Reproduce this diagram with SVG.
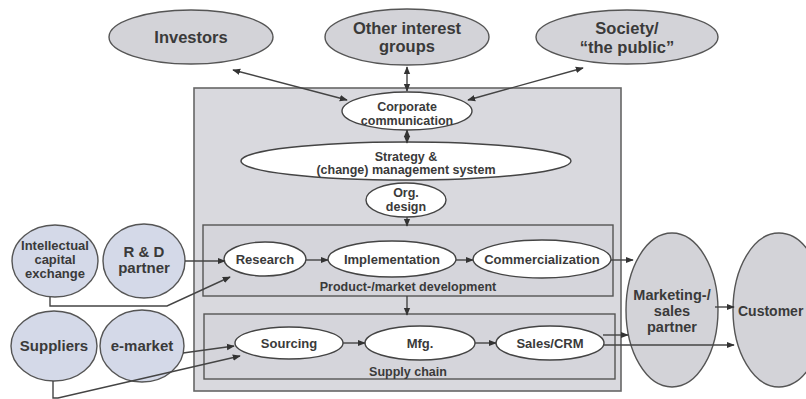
<svg xmlns="http://www.w3.org/2000/svg" width="806" height="399" viewBox="0 0 806 399">
  <style>
    .lbl { font-family: "Liberation Sans", Arial, sans-serif; font-weight: bold; fill: #3a3a3a; text-anchor: middle; }
    .big { font-size: 16.5px; }
    .mid { font-size: 15px; }
    .mk { font-size: 14.5px; }
    .sm { font-size: 13px; }
    .xs { font-size: 12.5px; }
    .outer { fill: #d3d3d8; stroke: #555; stroke-width: 1.4; }
    .partner { fill: #d4d9e8; stroke: #555; stroke-width: 1.4; }
    .inner { fill: #ffffff; stroke: #444; stroke-width: 1.4; }
    .frame { fill: #d9d9de; stroke: #666; stroke-width: 1.6; }
    .sub { fill: #d5d5db; stroke: #555; stroke-width: 1.4; }
    .conn { fill: none; stroke: #444; stroke-width: 1.4; }
  </style>
  <defs>
    <marker id="arr" viewBox="0 0 10 10" refX="9" refY="5" markerWidth="8" markerHeight="8" markerUnits="userSpaceOnUse" orient="auto-start-reverse">
      <path d="M0,1 L10,5 L0,9 Z" fill="#333"/>
    </marker>
  </defs>

  <rect width="806" height="399" fill="#ffffff"/>

  <!-- enterprise frame and its two process areas -->
  <g id="enterprise">
    <rect class="frame" x="194" y="88" width="427" height="303"/>
  </g>
  <g id="product-market-development">
    <rect class="sub" x="203" y="225" width="410" height="71"/>
    <text class="lbl xs" x="408" y="291">Product-/market development</text>
  </g>
  <g id="supply-chain">
    <rect class="sub" x="204" y="314" width="411" height="65"/>
    <text class="lbl xs" x="408" y="376">Supply chain</text>
  </g>

  <!-- stakeholders -->
  <g id="investors">
    <ellipse class="outer" cx="191" cy="37" rx="82" ry="27"/>
    <text class="lbl big" x="191" y="43">Investors</text>
  </g>
  <g id="other-interest-groups">
    <ellipse class="outer" cx="407" cy="37" rx="82" ry="28"/>
    <text class="lbl big" x="407" y="34">Other interest</text>
    <text class="lbl big" x="407" y="52">groups</text>
  </g>
  <g id="society">
    <ellipse class="outer" cx="627" cy="37" rx="91" ry="27"/>
    <text class="lbl big" x="627" y="34">Society/</text>
    <text class="lbl big" x="627" y="53">“the public”</text>
  </g>

  <!-- management layer -->
  <g id="corporate-communication">
    <ellipse class="inner" cx="407" cy="111" rx="65" ry="19"/>
    <text class="lbl xs" x="407" y="111">Corporate</text>
    <text class="lbl xs" x="407" y="125">communication</text>
  </g>
  <g id="strategy">
    <ellipse class="inner" cx="406" cy="161" rx="165" ry="19"/>
    <text class="lbl xs" x="406" y="161">Strategy &amp;</text>
    <text class="lbl xs" x="406" y="174">(change) management system</text>
  </g>
  <g id="org-design">
    <ellipse class="inner" cx="406" cy="200" rx="40" ry="17"/>
    <text class="lbl xs" x="406" y="197">Org.</text>
    <text class="lbl xs" x="406" y="211">design</text>
  </g>

  <!-- product-/market development steps -->
  <g id="research">
    <ellipse class="inner" cx="265" cy="259" rx="41" ry="17"/>
    <text class="lbl sm" x="265" y="264">Research</text>
  </g>
  <g id="implementation">
    <ellipse class="inner" cx="392" cy="259" rx="64" ry="18"/>
    <text class="lbl sm" x="392" y="264">Implementation</text>
  </g>
  <g id="commercialization">
    <ellipse class="inner" cx="542" cy="259" rx="69" ry="19"/>
    <text class="lbl sm" x="542" y="264">Commercialization</text>
  </g>

  <!-- supply chain steps -->
  <g id="sourcing">
    <ellipse class="inner" cx="289" cy="343" rx="54" ry="16"/>
    <text class="lbl sm" x="289" y="348">Sourcing</text>
  </g>
  <g id="mfg">
    <ellipse class="inner" cx="420" cy="343" rx="55" ry="17"/>
    <text class="lbl sm" x="420" y="348">Mfg.</text>
  </g>
  <g id="sales-crm">
    <ellipse class="inner" cx="550" cy="343" rx="54" ry="17"/>
    <text class="lbl sm" x="550" y="348">Sales/CRM</text>
  </g>

  <!-- external partners -->
  <g id="intellectual-capital-exchange">
    <ellipse class="partner" cx="55" cy="261" rx="43" ry="36"/>
    <text class="lbl sm" x="55" y="250">Intellectual</text>
    <text class="lbl sm" x="55" y="264">capital</text>
    <text class="lbl sm" x="55" y="278">exchange</text>
  </g>
  <g id="rd-partner">
    <ellipse class="partner" cx="144" cy="261" rx="41" ry="37"/>
    <text class="lbl mid" x="144" y="257">R &amp; D</text>
    <text class="lbl mid" x="144" y="273">partner</text>
  </g>
  <g id="suppliers">
    <ellipse class="partner" cx="54" cy="346" rx="43" ry="35"/>
    <text class="lbl mid" x="54" y="351">Suppliers</text>
  </g>
  <g id="e-market">
    <ellipse class="partner" cx="142" cy="346" rx="42" ry="36"/>
    <text class="lbl mid" x="142" y="351">e-market</text>
  </g>
  <g id="marketing-sales-partner">
    <ellipse class="outer" cx="672" cy="310" rx="46" ry="77"/>
    <text class="lbl mk" x="672" y="300">Marketing-/</text>
    <text class="lbl mk" x="672" y="316">sales</text>
    <text class="lbl mk" x="672" y="332">partner</text>
  </g>
  <g id="customer">
    <ellipse class="outer" cx="779" cy="310" rx="46" ry="77"/>
    <text class="lbl" x="738" y="316" style="text-anchor:start; font-size:14px">Customer</text>
  </g>

  <!-- connectors -->
  <g id="connectors">
    <line class="conn" x1="233" y1="70" x2="347" y2="100" marker-start="url(#arr)" marker-end="url(#arr)"/>
    <line class="conn" x1="407" y1="67" x2="407" y2="91" marker-start="url(#arr)" marker-end="url(#arr)"/>
    <line class="conn" x1="583" y1="68" x2="468" y2="100" marker-start="url(#arr)" marker-end="url(#arr)"/>
    <line class="conn" x1="407" y1="130" x2="407" y2="143" marker-start="url(#arr)" marker-end="url(#arr)"/>
    <line class="conn" x1="407" y1="217" x2="407" y2="226" marker-end="url(#arr)"/>
    <line class="conn" x1="407" y1="296" x2="407" y2="315" marker-end="url(#arr)"/>
    <line class="conn" x1="185" y1="261" x2="225" y2="261" marker-end="url(#arr)"/>
    <polyline class="conn" points="50,297 50,306 167,306 230,277" marker-end="url(#arr)"/>
    <line class="conn" x1="306" y1="260" x2="328" y2="260" marker-end="url(#arr)"/>
    <line class="conn" x1="456" y1="260" x2="473" y2="260" marker-end="url(#arr)"/>
    <line class="conn" x1="611" y1="260" x2="633" y2="260" marker-end="url(#arr)"/>
    <line class="conn" x1="183" y1="353" x2="234" y2="346" marker-end="url(#arr)"/>
    <polyline class="conn" points="53,381 53,398 58,398 240,356" marker-end="url(#arr)"/>
    <line class="conn" x1="343" y1="343" x2="365" y2="343" marker-end="url(#arr)"/>
    <line class="conn" x1="475" y1="343" x2="496" y2="343" marker-end="url(#arr)"/>
    <line class="conn" x1="603" y1="335" x2="628" y2="335" marker-end="url(#arr)"/>
    <line class="conn" x1="603" y1="345" x2="734" y2="345" marker-end="url(#arr)"/>
    <line class="conn" x1="715" y1="307" x2="734" y2="307" marker-end="url(#arr)"/>
  </g>
</svg>
